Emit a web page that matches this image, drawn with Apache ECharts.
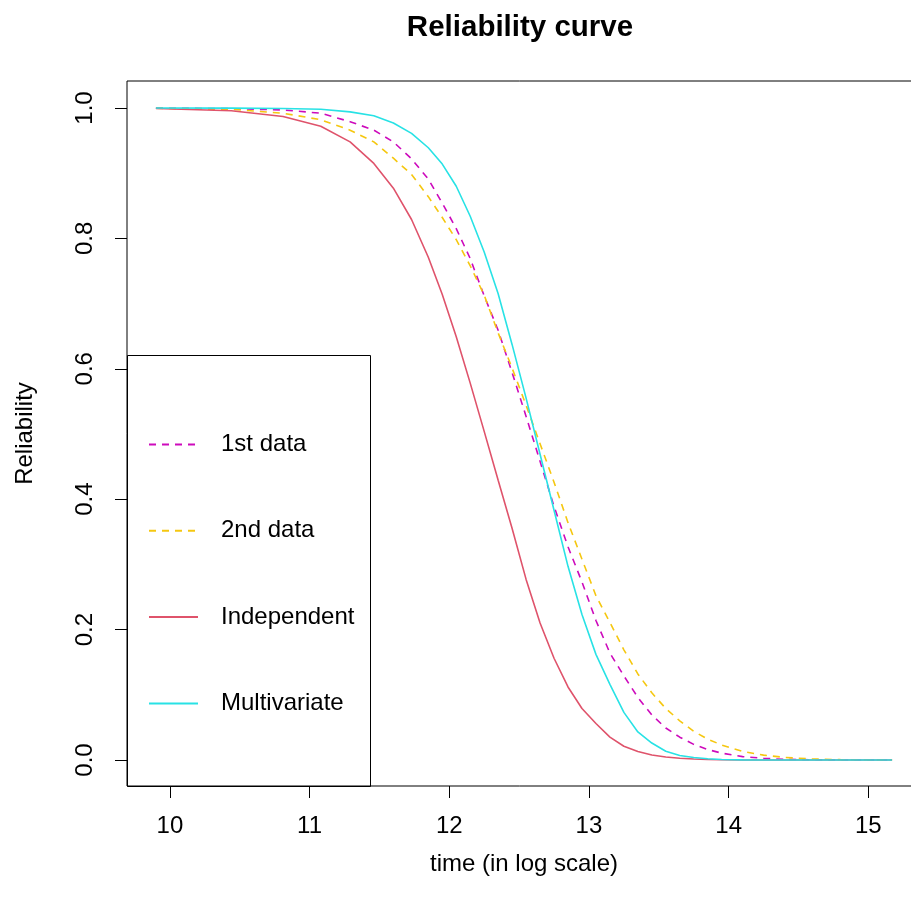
<!DOCTYPE html>
<html>
<head>
<meta charset="utf-8">
<script src="https://cdn.jsdelivr.net/npm/echarts@6/dist/echarts.min.js"></script>
<style>html,body{margin:0;padding:0;background:#fff;}#chart{width:911px;height:909px;}</style>
</head>
<body>
<div id="chart"></div>
<script>
// time in log scale (x)
var logTime = [9.90, 10.44, 10.81, 11.08, 11.29, 11.46, 11.60, 11.73, 11.85, 11.95, 12.05, 12.15, 12.25, 12.35, 12.45, 12.55, 12.65, 12.75, 12.85, 12.95, 13.05, 13.15, 13.25, 13.35, 13.45, 13.55, 13.65, 13.75, 13.85, 13.95, 14.10, 14.25, 14.40, 14.60, 14.80, 15.00, 15.17];
var firstData = [0.9998, 0.999, 0.997, 0.992, 0.979, 0.966, 0.948, 0.922, 0.891, 0.854, 0.815, 0.769, 0.712, 0.659, 0.594, 0.527, 0.458, 0.389, 0.327, 0.273, 0.214, 0.164, 0.129, 0.096, 0.069, 0.049, 0.035, 0.024, 0.016, 0.0105, 0.0052, 0.0025, 0.0010, 0.0003, 0.0001, 0.0000, 0.0000];
var secondData = [0.9995, 0.998, 0.992, 0.982, 0.966, 0.948, 0.923, 0.898, 0.864, 0.832, 0.798, 0.758, 0.713, 0.655, 0.601, 0.544, 0.485, 0.426, 0.364, 0.308, 0.252, 0.211, 0.169, 0.132, 0.103, 0.079, 0.060, 0.044, 0.032, 0.023, 0.013, 0.0074, 0.004, 0.0015, 0.0005, 0.0002, 0.0001];
var independent = [0.9992, 0.9958, 0.987, 0.972, 0.948, 0.915, 0.877, 0.829, 0.771, 0.714, 0.649, 0.578, 0.504, 0.429, 0.355, 0.277, 0.210, 0.156, 0.112, 0.079, 0.056, 0.035, 0.021, 0.013, 0.0076, 0.0046, 0.0027, 0.0015, 0.0008, 0.0004, 0.0001, 0, 0, 0, 0, 0, 0];
var multivariate = [0.9999, 0.9998, 0.9993, 0.998, 0.994, 0.988, 0.977, 0.961, 0.939, 0.914, 0.880, 0.834, 0.779, 0.715, 0.637, 0.555, 0.469, 0.383, 0.297, 0.223, 0.162, 0.116, 0.073, 0.043, 0.026, 0.0134, 0.007, 0.0037, 0.0018, 0.0008, 0.0002, 0, 0, 0, 0, 0, 0];
var seriesNames = ['1st data', '2nd data', 'Independent', 'Multivariate'];
var xTicks = [10, 11, 12, 13, 14, 15];
var yTicks = [0, 0.2, 0.4, 0.6, 0.8, 1.0];

function pairs(ys) { return logTime.map(function (x, i) { return [x, ys[i]]; }); }

var FONT = 'Liberation Sans, Arial, sans-serif';
var chart = echarts.init(document.getElementById('chart'), null, {renderer: 'canvas'});

function lineSeries(name, ys, color, dashed) {
  return {
    name: name, type: 'line', data: pairs(ys), showSymbol: false, symbol: 'none',
    smooth: false, animation: false,
    lineStyle: {color: color, width: 1.6, type: dashed ? [7, 6] : 'solid'},
    itemStyle: {color: color}
  };
}

chart.setOption({
  backgroundColor: '#ffffff',
  animation: false,
  title: {
    text: 'Reliability curve', left: 515, top: 8, textAlign: 'center',
    textStyle: {fontFamily: FONT, fontSize: 29.5, fontWeight: 'bold', color: '#000'}
  },
  grid: {left: 127, top: 81, width: 794, height: 705, show: true, borderColor: '#000', borderWidth: 1,
         backgroundColor: 'transparent', containLabel: false, outerBoundsMode: 'none'},
  xAxis: {
    type: 'value', min: 9.693, max: 15.377,
    name: 'time (in log scale)', nameLocation: 'middle', nameGap: 66,
    nameTextStyle: {fontFamily: FONT, fontSize: 24, color: '#000'},
    axisLine: {show: false, onZero: false}, splitLine: {show: false},
    axisTick: {show: true, length: 12, customValues: xTicks, lineStyle: {color: '#000', width: 1}},
    axisLabel: {customValues: xTicks, margin: 28, fontFamily: FONT, fontSize: 24, color: '#000', formatter: function (v) { return String(v); }}
  },
  yAxis: {
    type: 'value', min: -0.0399, max: 1.0414,
    name: 'Reliability', nameLocation: 'middle', nameGap: 90, nameRotate: 90,
    nameTextStyle: {fontFamily: FONT, fontSize: 24, color: '#000'},
    axisLine: {show: false, onZero: false}, splitLine: {show: false},
    axisTick: {show: true, length: 12, customValues: yTicks, lineStyle: {color: '#000', width: 1}},
    axisLabel: {customValues: yTicks, margin: 30, rotate: 90, fontFamily: FONT, fontSize: 24, color: '#000', formatter: function (v) { return v.toFixed(1); }}
  },
  legend: {
    data: seriesNames, orient: 'vertical', left: 148, top: 432.5,
    itemWidth: 49, itemHeight: 24, itemGap: 62.3, padding: 0,
    selectedMode: false,
    itemStyle: {opacity: 0, borderWidth: 0},
    textStyle: {fontFamily: FONT, fontSize: 24, color: '#000', lineHeight: 24, padding: [0, 0, 0, 18]}
  },
  graphic: [{
    type: 'rect', z: 100, silent: true,
    shape: {x: 127.5, y: 355.5, width: 243, height: 431},
    style: {fill: 'transparent', stroke: '#000', lineWidth: 1}
  }],
  series: [
    lineSeries(seriesNames[0], firstData, '#CD0BBC', true),
    lineSeries(seriesNames[1], secondData, '#F5C710', true),
    lineSeries(seriesNames[2], independent, '#DF536B', false),
    lineSeries(seriesNames[3], multivariate, '#28E2E5', false)
  ]
});
</script>
</body>
</html>
